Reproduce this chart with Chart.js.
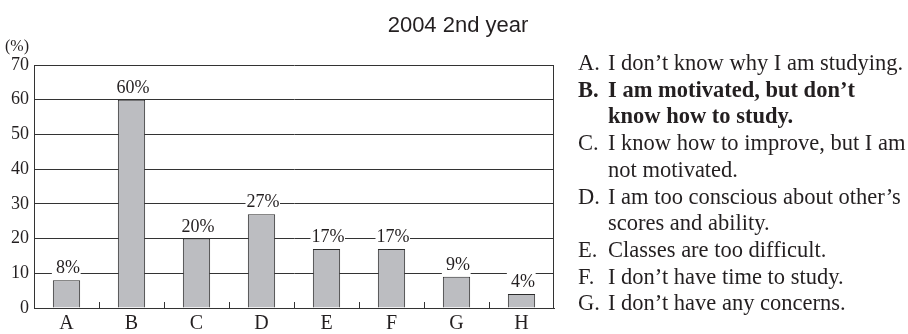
<!DOCTYPE html>
<html>
<head>
<meta charset="utf-8">
<script src="https://cdn.jsdelivr.net/npm/chart.js@4/dist/chart.umd.min.js"></script>
<style>
  html, body { margin: 0; padding: 0; background: #fff; }
  #wrap { width: 908px; height: 334px; }
</style>
</head>
<body>
<div id="wrap"><canvas id="c" width="908" height="334"></canvas></div>
<script>
// Survey: main concern about studying, 2nd-year students, 2004 (percent)
const chartTitle = '2004 2nd year';
const unitLabel = '(%)';
const categories = ['A', 'B', 'C', 'D', 'E', 'F', 'G', 'H'];
const shares = [8, 60, 20, 27, 17, 17, 9, 4];
const yTicks = [0, 10, 20, 30, 40, 50, 60, 70];

// Answer key shown beside the chart
const keyLetters = ['A.', 'B.', 'C.', 'D.', 'E.', 'F.', 'G.'];
const keyTexts = [
  ['I don\u2019t know why I am studying.'],
  ['I am motivated, but don\u2019t', 'know how to study.'],
  ['I know how to improve, but I am', 'not motivated.'],
  ['I am too conscious about other\u2019s', 'scores and ability.'],
  ['Classes are too difficult.'],
  ['I don\u2019t have time to study.'],
  ['I don\u2019t have any concerns.']
];
const keyBold = [false, true, false, false, false, false, false];

const INK = '#231f20';
const SERIF = '"Liberation Serif", "Times New Roman", serif';
const SANS = '"Liberation Sans", Arial, sans-serif';

const decorations = {
  id: 'decorations',
  beforeDatasetsDraw(chart) {
    const { ctx, chartArea } = chart;
    const xs = chart.scales.x;
    ctx.save();
    ctx.strokeStyle = '#333';
    ctx.lineWidth = 1;
    // right frame line
    const rx = Math.round(chartArea.right) - 0.5;
    ctx.beginPath();
    ctx.moveTo(rx, chartArea.top);
    ctx.lineTo(rx, chartArea.bottom);
    ctx.stroke();
    // short inward tick marks between categories
    for (let i = 1; i < categories.length; i++) {
      const x = Math.round((xs.getPixelForTick(i - 1) + xs.getPixelForTick(i)) / 2) + 0.5;
      ctx.beginPath();
      ctx.moveTo(x, chartArea.bottom);
      ctx.lineTo(x, chartArea.bottom - 6);
      ctx.stroke();
    }
    ctx.restore();
  },
  afterDatasetsDraw(chart) {
    const { ctx } = chart;
    const meta = chart.getDatasetMeta(0);
    ctx.save();
    ctx.font = '18px ' + SERIF;
    ctx.textAlign = 'center';
    ctx.textBaseline = 'alphabetic';
    meta.data.forEach((bar, i) => {
      const txt = shares[i] + '%';
      const tw = ctx.measureText(txt).width;
      const tx = bar.x + 1.5;
      const base = bar.y - 7;
      const bw = bar.width;
      const left = Math.min(bar.x - bw / 2, tx - tw / 2) - 1;
      const right = Math.max(bar.x + bw / 2, tx + tw / 2) + 0.5;
      ctx.fillStyle = '#fff';
      ctx.fillRect(left, base - 15, right - left, (bar.y - 2) - (base - 15));
      ctx.fillStyle = INK;
      ctx.fillText(txt, tx, base);
    });
    ctx.restore();
  },
  afterDraw(chart) {
    const { ctx } = chart;
    ctx.save();
    ctx.fillStyle = INK;
    // title
    ctx.font = '22px ' + SANS;
    ctx.textAlign = 'center';
    ctx.textBaseline = 'alphabetic';
    ctx.fillText(chartTitle, 458, 32);
    // unit
    ctx.font = '16px ' + SERIF;
    ctx.textAlign = 'left';
    ctx.fillText(unitLabel, 5, 51);
    // answer key
    let y = 70;
    const step = 26.7;
    keyLetters.forEach((letter, i) => {
      ctx.font = (keyBold[i] ? 'bold ' : '') + '22.5px ' + SERIF;
      ctx.fillText(letter, 578, y);
      keyTexts[i].forEach(line => {
        ctx.fillText(line, 608, y);
        y += step;
      });
    });
    ctx.restore();
  }
};

new Chart(document.getElementById('c'), {
  type: 'bar',
  data: {
    labels: categories,
    datasets: [{
      data: shares,
      backgroundColor: '#bcbdc1',
      borderColor: '#2b2b2b',
      borderWidth: 1,
      barPercentage: 0.42,
      categoryPercentage: 1
    }]
  },
  options: {
    responsive: false,
    animation: false,
    devicePixelRatio: 1,
    layout: { padding: { top: 65, right: 354, left: 0, bottom: 0 } },
    plugins: {
      legend: { display: false },
      title: { display: false },
      tooltip: { enabled: false }
    },
    scales: {
      x: {
        offset: true,
        grid: { display: false, drawTicks: false },
        border: { display: true, color: '#333', width: 1 },
        ticks: {
          color: INK,
          font: { family: SERIF, size: 20 },
          padding: 4,
          maxRotation: 0
        },
        afterFit(scale) { scale.height = 26; }
      },
      y: {
        min: 0,
        max: 70,
        afterBuildTicks(scale) { scale.ticks = yTicks.map(v => ({ value: v })); },
        grid: { color: '#333', lineWidth: 1, drawTicks: false },
        border: { display: true, color: '#333', width: 1 },
        ticks: {
          color: INK,
          font: { family: SERIF, size: 18 },
          padding: 5
        },
        afterFit(scale) { scale.width = 34; }
      }
    }
  },
  plugins: [decorations]
});
</script>
</body>
</html>
